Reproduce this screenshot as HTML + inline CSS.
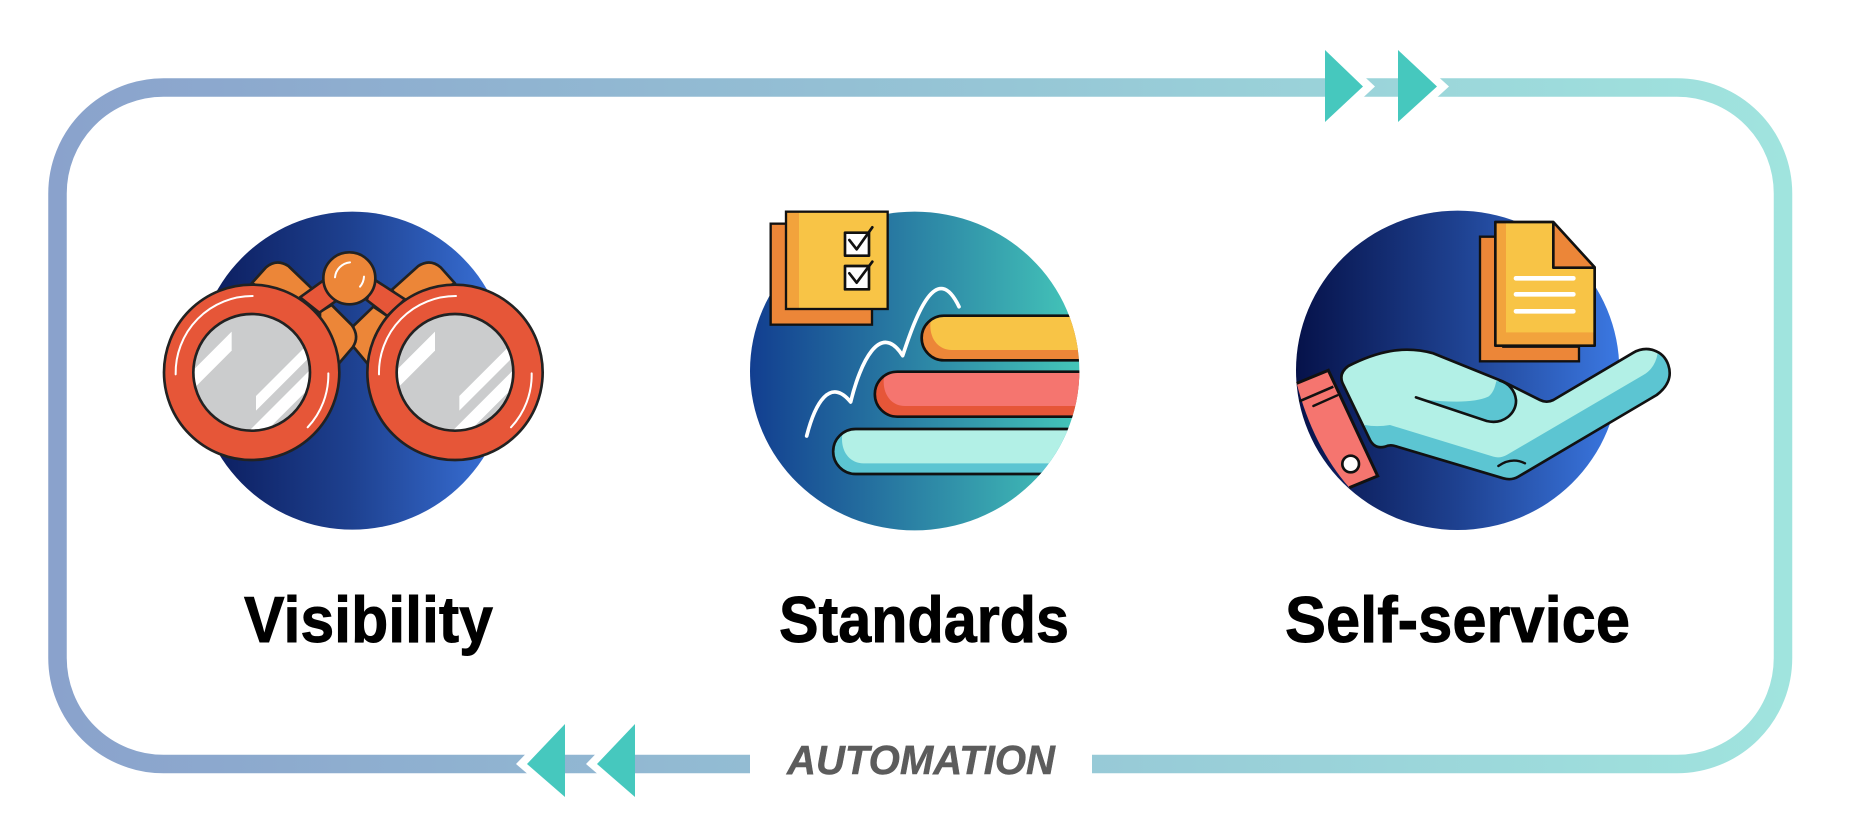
<!DOCTYPE html>
<html><head><meta charset="utf-8"><style>html,body{margin:0;padding:0;background:#fff}svg{display:block}text{font-family:"Liberation Sans",sans-serif;font-weight:700}</style></head>
<body>
<svg width="1850" height="820" viewBox="0 0 1850 820" xmlns="http://www.w3.org/2000/svg">
<defs>
<linearGradient id="loop" gradientUnits="userSpaceOnUse" x1="48" y1="0" x2="1792" y2="0"><stop offset="0" stop-color="#8aa2cc"/><stop offset="1" stop-color="#a0e4de"/></linearGradient>
<linearGradient id="g1"><stop offset="0" stop-color="#0a1a5a"/><stop offset=".5" stop-color="#1e4190"/><stop offset="1" stop-color="#3b74dc"/></linearGradient>
<linearGradient id="g2"><stop offset="0" stop-color="#123e90"/><stop offset="1" stop-color="#44c6b9"/></linearGradient>
<linearGradient id="g3"><stop offset="0" stop-color="#06124a"/><stop offset=".5" stop-color="#1e4190"/><stop offset="1" stop-color="#3b78e2"/></linearGradient>
<clipPath id="lensL"><circle cx="335" cy="547" r="175"/></clipPath>
<clipPath id="e2"><ellipse cx="524" cy="543" rx="494" ry="478"/></clipPath>
<clipPath id="handC"><path d="M205,528 C290,485 370,465 460,490 L670,575 L780,630 Q800,640 820,630 L1060,488 C1100,465 1150,480 1165,525 C1180,570 1150,600 1130,615 L715,860 Q695,872 670,865 L345,768 Q330,763 315,770 Q285,778 270,750 L188,580 Q175,550 205,528 Z"/></clipPath>
<clipPath id="thumbC"><path d="M408,622 L620,693 C670,705 710,670 708,630 C705,600 685,580 660,572 Z"/></clipPath>
<g id="lens">
<circle cx="335" cy="547" r="175" fill="#cbcccd"/>
<g clip-path="url(#lensL)" fill="#fff">
<polygon points="275,425 275,482 150,607 150,550"/>
<polygon points="520,446 348,618 348,662 520,490"/>
<polygon points="520,530 320,730 372,730 520,582"/>
</g>
<circle cx="335" cy="547" r="175" fill="none" stroke="#222" stroke-width="8"/>
</g>
<g id="ring">
<circle cx="335" cy="547" r="263" fill="#e65638" stroke="#222" stroke-width="8"/>
<use href="#lens"/>
<path d="M338,318 A230,230 0 0 0 107,553" fill="none" stroke="#fff" stroke-width="6" stroke-linecap="round"/>
<path d="M565,550 A230,230 0 0 1 503,712" fill="none" stroke="#fff" stroke-width="6" stroke-linecap="round"/>
</g>
</defs>

<!-- loop -->
<path d="M750,764 H163.5 A106,106 0 0 1 57.5,658 V193.5 A106,106 0 0 1 163.5,87.5 H1677 A106,106 0 0 1 1783,193.5 V658 A106,106 0 0 1 1677,764 H1092" fill="none" stroke="url(#loop)" stroke-width="18.5"/>
<polygon points="1325,40 1375,86.5 1325,133" fill="#fff"/>
<polygon points="1398,40 1449,86.5 1398,133" fill="#fff"/>
<polygon points="1325,50 1363,86.5 1325,122" fill="#46c8be"/>
<polygon points="1398,50 1437,86.5 1398,122" fill="#46c8be"/>
<polygon points="565,713 516,764 565,806" fill="#fff"/>
<polygon points="635,713 586,764 635,806" fill="#fff"/>
<polygon points="565,724 527,764 565,797" fill="#46c8be"/>
<polygon points="635,724 597,764 635,797" fill="#46c8be"/>

<!-- Icon 1 -->
<g transform="translate(140,190) scale(.33333)">
<ellipse cx="637" cy="542" rx="470" ry="477" fill="url(#g1)"/>
<g stroke="#222" stroke-width="8" stroke-linejoin="round">
<path d="M335,280 L378,232 Q410,205 445,228 L520,300 L480,340 Z" fill="#ec8638"/>
<path d="M945,280 L902,232 Q870,205 835,228 L755,300 L795,340 Z" fill="#ec8638"/>
<path d="M640,408 L700,350 L745,380 L690,530 L640,470 Z" fill="#ec8638"/>
<path d="M540,365 L575,345 L635,405 Q660,440 638,472 L597,520 L540,450 Z" fill="#ec8638"/>
<path d="M480,322 L555,268 L595,328 L538,368 Z" fill="#e65638"/>
<path d="M702,268 L795,328 L742,378 L680,330 Z" fill="#e65638"/>
</g>
<use href="#ring"/>
<use href="#ring" x="610"/>
<circle cx="628" cy="265" r="78" fill="#ec8638" stroke="#222" stroke-width="8"/>
<path d="M630,217 A50,50 0 0 0 585,262" fill="none" stroke="#fff" stroke-width="6" stroke-linecap="round"/>
<path d="M672,260 A50,50 0 0 1 660,290" fill="none" stroke="#fff" stroke-width="6" stroke-linecap="round"/>
</g>

<!-- Icon 2 -->
<g transform="translate(740,190) scale(.33333)">
<ellipse cx="524" cy="543" rx="494" ry="478" fill="url(#g2)"/>
<rect x="92" y="101" width="304" height="303" fill="#ec8638" stroke="#111" stroke-width="7"/>
<rect x="138" y="65" width="305" height="292" fill="#f8c446"/>
<rect x="138" y="65" width="39" height="292" fill="#f2a33c"/>
<rect x="138" y="65" width="305" height="292" fill="none" stroke="#111" stroke-width="7"/>
<g stroke="#111" stroke-width="8" stroke-linecap="round" stroke-linejoin="round">
<rect x="315" y="128" width="72" height="69" fill="#fff"/>
<rect x="315" y="228" width="72" height="70" fill="#fff"/>
<path d="M328,150 L350,178 L397,112" fill="none"/>
<path d="M328,250 L350,278 L397,215" fill="none"/>
</g>
<path d="M200,738 C225,640 270,560 332,636 C360,520 420,390 488,497 C530,370 590,210 657,350" fill="none" stroke="#fff" stroke-width="11" stroke-linecap="round" stroke-linejoin="round"/>
<g clip-path="url(#e2)">
<path d="M1100,377 H612 A67,67 0 0 0 612,511 H1100 Z" fill="#ec8638"/>
<path d="M1100,377 H612 Q580,377 572,392 C565,445 595,480 635,480 H1100 Z" fill="#f8c446"/>
<path d="M1100,377 H612 A67,67 0 0 0 612,511 H1100" fill="none" stroke="#111" stroke-width="8"/>
<path d="M1100,545 H472 A67,67 0 0 0 472,680 H1100 Z" fill="#e65638"/>
<path d="M1100,545 H472 Q440,545 432,560 C425,613 455,648 495,648 H1100 Z" fill="#f5756f"/>
<path d="M1100,545 H472 A67,67 0 0 0 472,680 H1100" fill="none" stroke="#111" stroke-width="8"/>
<path d="M1100,717 H347 A67,67 0 0 0 347,852 H1100 Z" fill="#5cc5d2"/>
<path d="M1100,717 H347 Q315,717 307,732 C300,785 330,820 370,820 H1100 Z" fill="#b2f0e6"/>
<path d="M1100,717 H347 A67,67 0 0 0 347,852 H1100" fill="none" stroke="#111" stroke-width="8"/>
</g>
</g>

<!-- Icon 3 -->
<g transform="translate(1280,190) scale(.33333)">
<ellipse cx="533" cy="541" rx="485" ry="479" fill="url(#g3)"/>
<path d="M600,140 H670 V470 H897 V514 H600 Z" fill="#ec8638" stroke="#111" stroke-width="7"/>
<path d="M646,96 H820 L944,232 V467 H646 Z" fill="#f2a33c"/>
<path d="M678,99 H820 L941,232 V427 H678 Z" fill="#f8c446"/>
<path d="M820,96 V233 H944 Z" fill="#ec8638"/>
<path d="M646,96 H820 L944,232 V467 H646 Z M820,96 V233 H944" fill="none" stroke="#111" stroke-width="8" stroke-linejoin="round"/>
<g stroke="#fff" stroke-width="14" stroke-linecap="round"><path d="M708,265H880"/><path d="M708,313H880"/><path d="M708,364H880"/></g>
<path d="M50,580 L145,541 L293,858 L208,893 Q100,770 50,580 Z" fill="#f5756f"/>
<path d="M50,580 L145,541 L293,858 L208,893" fill="none" stroke="#111" stroke-width="9"/>
<path d="M58,634 L160,590" stroke="#111" stroke-width="8"/>
<path d="M100,648 L172,616" stroke="#111" stroke-width="7" stroke-linecap="round"/>
<circle cx="212" cy="822" r="25" fill="#fff" stroke="#111" stroke-width="8"/>
<path d="M205,528 C290,485 370,465 460,490 L670,575 L780,630 Q800,640 820,630 L1060,488 C1100,465 1150,480 1165,525 C1180,570 1150,600 1130,615 L715,860 Q695,872 670,865 L345,768 Q330,763 315,770 Q285,778 270,750 L188,580 Q175,550 205,528 Z" fill="#b2f0e6"/>
<g clip-path="url(#handC)">
<path d="M255,705 Q290,712 330,705 L640,800 Q660,806 680,795 L1090,555 Q1125,535 1133,490 L1200,480 L1200,900 L200,900 Z" fill="#5cc5d2"/>
</g>
<path d="M408,622 L620,693 C670,705 710,670 708,630 C705,600 685,580 660,572 Z" fill="#b2f0e6"/>
<g clip-path="url(#thumbC)"><path d="M430,628 Q570,645 625,620 Q645,605 650,565 L730,590 L730,710 L600,710 Z" fill="#5cc5d2"/></g>
<path d="M205,528 C290,485 370,465 460,490 L670,575 L780,630 Q800,640 820,630 L1060,488 C1100,465 1150,480 1165,525 C1180,570 1150,600 1130,615 L715,860 Q695,872 670,865 L345,768 Q330,763 315,770 Q285,778 270,750 L188,580 Q175,550 205,528 Z" fill="none" stroke="#111" stroke-width="8" stroke-linejoin="round"/>
<path d="M408,622 L620,693 C670,705 710,670 708,630 C705,600 685,580 660,572" fill="none" stroke="#111" stroke-width="8" stroke-linecap="round"/>
<path d="M655,828 Q695,800 735,820" fill="none" stroke="#111" stroke-width="7" stroke-linecap="round"/>
</g>

<!-- Labels -->
<text x="244" y="642" font-size="65" textLength="249" lengthAdjust="spacingAndGlyphs" fill="#000" stroke="#000" stroke-width=".9">Visibility</text>
<text x="779" y="642" font-size="65" textLength="290" lengthAdjust="spacingAndGlyphs" fill="#000" stroke="#000" stroke-width=".9">Standards</text>
<text x="1285" y="642" font-size="65" textLength="345" lengthAdjust="spacingAndGlyphs" fill="#000" stroke="#000" stroke-width=".9">Self-service</text>
<text x="787" y="774" font-size="41" font-style="italic" textLength="268" lengthAdjust="spacingAndGlyphs" fill="#5c5c5c" stroke="#5c5c5c" stroke-width=".5">AUTOMATION</text>
</svg>
</body></html>
